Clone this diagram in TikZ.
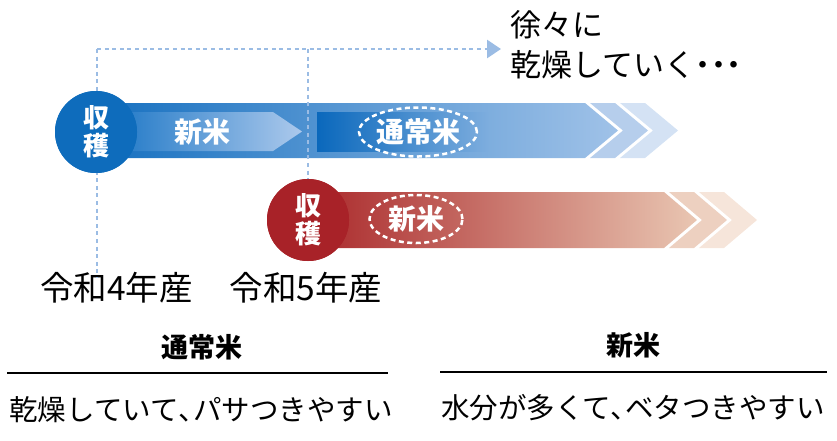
\documentclass[tikz,border=0pt]{standalone}
\usepackage{fontspec}
\setmainfont{Noto Sans CJK JP}
\usetikzlibrary{arrows.meta,shapes.geometric}
\definecolor{bluecirc}{RGB}{14,108,188}
\definecolor{blueL}{RGB}{22,112,192}
\definecolor{blueR}{RGB}{160,194,232}
\definecolor{innerL}{RGB}{45,128,202}
\definecolor{innerR}{RGB}{172,201,236}
\definecolor{darkB}{RGB}{10,104,188}
\definecolor{darkBR}{RGB}{125,173,222}
\definecolor{bchA}{RGB}{182,206,236}
\definecolor{bchB}{RGB}{212,226,244}
\definecolor{redcirc}{RGB}{168,34,40}
\definecolor{redL}{RGB}{170,40,42}
\definecolor{redM}{RGB}{200,112,80}
\definecolor{redR}{RGB}{233,198,178}
\definecolor{rchA}{RGB}{237,208,192}
\definecolor{rchB}{RGB}{246,229,218}
\definecolor{dotc}{RGB}{155,188,228}
\newcommand{\propw}[1]{{\addfontfeatures{RawFeature=+palt}#1}}
\tikzset{
  dotline/.style={draw=dotc, line width=2.8pt, dash pattern=on 4pt off 3.6pt},
  harvest/.style={circle, inner sep=0pt, minimum size=82pt},
  harvtext/.style={text=white, align=center, inner sep=0pt, font=\fontsize{26}{28}\selectfont\bfseries},
  wtext/.style={text=white, inner sep=0pt, font=\fontsize{28}{30}\selectfont\bfseries},
  tag/.style={ellipse, draw=white, line width=2.5pt, dash pattern=on 5pt off 3.5pt, inner sep=0pt},
  lbl/.style={inner sep=0pt, font=\fontsize{33.5}{35}\selectfont},
  head/.style={inner sep=0pt, font=\fontsize{27}{30}\selectfont\bfseries},
  desc/.style={inner sep=0pt, font=\fontsize{28.5}{30}\selectfont},
  note/.style={inner sep=0pt, anchor=west, font=\fontsize{31}{33}\selectfont},
  rule/.style={draw=black, line width=1.4pt}
}
\begin{document}
\begin{tikzpicture}[x=1pt,y=-1pt]
\useasboundingbox (0,0) rectangle (837,440);

% blue band
\shade[left color=blueL, right color=blueR] (96,103) -- (585,103) -- (618,130.5) -- (585,158) -- (96,158) -- cycle;
\fill[bchA] (590,103) -- (615,103) -- (648,130.5) -- (615,158) -- (590,158) -- (623,130.5) -- cycle;
\fill[bchB] (620,103) -- (645,103) -- (678,130.5) -- (645,158) -- (620,158) -- (653,130.5) -- cycle;
% inner arrow
\shade[left color=innerL, right color=innerR] (130,112) -- (273,112) -- (302,131.5) -- (273,151) -- (130,151) -- cycle;
% dark rectangle
\shade[left color=darkB, middle color=darkB, right color=darkBR] (317,112) rectangle (488,151);

% red band
\shade[left color=redL, middle color=redM, right color=redR] (308,192) -- (664,192) -- (697,220) -- (664,248) -- (308,248) -- cycle;
\fill[rchA] (669,192) -- (694,192) -- (727,220) -- (694,248) -- (669,248) -- (702,220) -- cycle;
\fill[rchB] (699,192) -- (724,192) -- (757,220) -- (724,248) -- (699,248) -- (732,220) -- cycle;

% labels
\node[lbl] (lbl4) at (116.5,288) {令和4年産};
\node[lbl] (lbl5) at (306,288) {令和5年産};

% circles
\node[harvest, fill=bluecirc] (c1) at (96,132) {};
\node[harvest, fill=redcirc] (c2) at (308,220) {};

% dotted guide lines
\coordinate (d0) at (97,49);
\coordinate (d1) at (308,49);
\coordinate (dend) at (501,49);
\draw[dotline] (d0) -- ([yshift=-5pt]lbl4.north -| d0);
\draw[dotline] (d1) -- (c2.north);
\draw[dotline, -{Triangle[length=14pt,width=18pt,fill=dotc]}] (d0) -- (dend);

% redraw circles over the dotted lines
\node[harvest, fill=bluecirc] at (c1) {};
\node[harvest, fill=redcirc] at (c2) {};
\node[harvtext] (h1) at (c1) {収\\穫};
\node[harvtext] (h2) at (c2) {収\\穫};

% texts inside bands
\node[wtext] (n1) at (202,132) {新米};
\node[tag, minimum width=118pt, minimum height=49pt] (e1) at (418,132) {};
\node[wtext] (t1) at (e1) {通常米};
\node[tag, minimum width=93pt, minimum height=48pt] (e2) at (416,219) {};
\node[wtext] (t2) at (e2) {新米};

% note
\node[note] (nt1) at (510,25) {徐々に};
\node[note] (nt2) at (510,65) {乾燥していく\propw{・・・}};

% bottom
\node[head] (hd1) at (202,347) {通常米};
\coordinate (r1a) at (7,373);
\coordinate (r1b) at (388,373);
\draw[rule] (r1a) -- (r1b);
\node[desc] (ds1) at (201,410) {乾燥していて\propw{、}パサつきやすい};

\node[head] (hd2) at (633,345) {新米};
\coordinate (r2a) at (440,372);
\coordinate (r2b) at (827,372);
\draw[rule] (r2a) -- (r2b);
\node[desc] (ds2) at (633,408) {水分が多くて\propw{、}ベタつきやすい};
\end{tikzpicture}
\end{document}
